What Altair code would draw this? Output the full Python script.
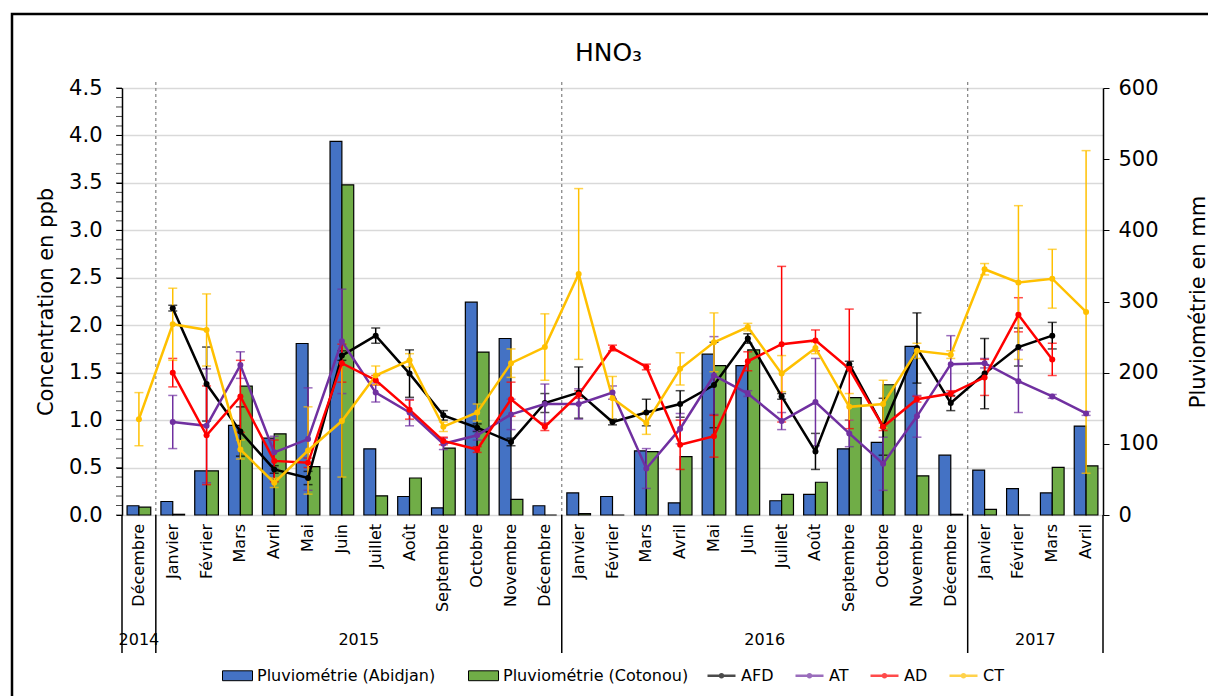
import altair as alt
import pandas as pd

# ---- data ---------------------------------------------------------------
months = [
    "Décembre",
    "Janvier", "Février", "Mars", "Avril", "Mai", "Juin", "Juillet", "Août",
    "Septembre", "Octobre", "Novembre", "Décembre",
    "Janvier", "Février", "Mars", "Avril", "Mai", "Juin", "Juillet", "Août",
    "Septembre", "Octobre", "Novembre", "Décembre",
    "Janvier", "Février", "Mars", "Avril",
]
years = ["2014"] + ["2015"] * 12 + ["2016"] * 12 + ["2017"] * 4

# rainfall (mm, right axis)
rain_abidjan = [13, 19, 62, 126, 108, 241, 525, 93, 26, 10, 299, 248, 13,
                31, 26, 90, 17, 226, 210, 20, 29, 93, 102, 237, 84,
                63, 37, 31, 125]
rain_cotonou = [11, 1, 62, 181, 114, 68, 464, 27, 52, 94, 229, 22, 0,
                2, 0, 89, 82, 210, 232, 29, 46, 165, 183, 55, 1,
                8, 0, 67, 69]

# HNO3 concentrations (ppb, left axis) and standard deviations
afd = [None, 2.18, 1.38, 0.88, 0.48, 0.39, 1.68, 1.89, 1.49, 1.05, 0.92, 0.77, 1.18,
       1.29, 0.98, 1.08, 1.17, 1.37, 1.86, 1.25, 0.67, 1.59, 0.93, 1.76, 1.18,
       1.49, 1.77, 1.89, None]
afd_err = [None, 0.03, 0.39, 0.26, 0.04, 0.07, 0.05, 0.08, 0.25, 0.05, 0.04, 0.04, 0.10,
           0.27, 0.03, 0.14, 0.14, 0.45, 0.05, 0.03, 0.19, 0.03, 0.30, 0.37, 0.08,
           0.37, 0.20, 0.14, None]

at = [None, 0.98, 0.94, 1.58, 0.66, 0.80, 1.83, 1.29, 1.08, 0.75, 0.84, 1.06, 1.17,
      1.17, 1.29, 0.49, 0.91, 1.47, 1.28, 0.99, 1.19, 0.86, 0.54, 1.04, 1.59,
      1.60, 1.41, 1.25, 1.07]
at_err = [None, 0.28, 0.60, 0.14, 0.17, 0.54, 0.55, 0.10, 0.14, 0.06, 0.05, 0.16, 0.21,
          0.16, 0.07, 0.21, 0.16, 0.41, 0.03, 0.09, 0.46, 0.14, 0.28, 0.22, 0.30,
          0.05, 0.33, 0.02, 0.02]

ad = [None, 1.50, 0.84, 1.25, 0.57, 0.55, 1.60, 1.42, 1.11, 0.78, 0.69, 1.22, 0.93,
      1.27, 1.76, 1.56, 0.74, 0.83, 1.62, 1.80, 1.84, 1.54, 0.93, 1.22, 1.28,
      1.45, 2.11, 1.64, None]
ad_err = [None, 0.15, 0.52, 0.38, 0.22, 0.05, 0.20, 0.05, 0.10, 0.04, 0.03, 0.18, 0.04,
          0.04, 0.03, 0.03, 0.26, 0.22, 0.10, 0.82, 0.11, 0.63, 0.04, 0.03, 0.03,
          0.19, 0.18, 0.17, None]

ct = [1.01, 2.01, 1.95, 0.69, 0.34, 0.68, 0.99, 1.47, 1.63, 0.93, 1.08, 1.60, 1.77,
      2.54, 1.23, 0.97, 1.54, 1.82, 1.98, 1.49, 1.76, 1.14, 1.17, 1.73, 1.69,
      2.59, 2.45, 2.49, 2.14]
ct_err = [0.28, 0.38, 0.38, 0.10, 0.05, 0.46, 0.59, 0.10, 0.07, 0.05, 0.09, 0.15, 0.35,
          0.90, 0.23, 0.12, 0.17, 0.31, 0.04, 0.19, 0.06, 0.14, 0.25, 0.08, 0.04,
          0.06, 0.81, 0.31, 1.70]

series_names = ["AFD", "AT", "AD", "CT"]
series_colors = ["#000000", "#7030A0", "#FF0000", "#FFC000"]
station_names = ["Pluviométrie (Abidjan)", "Pluviométrie (Cotonou)"]
station_colors = ["#4472C4", "#70AD47"]
chart_title = "HNO₃"

# ---- tables ---------------------------------------------------------------
n = len(months)
idx = list(range(n))
bar_w = 0.35

bars_df = pd.DataFrame({
    "station": [station_names[0]] * n + [station_names[1]] * n,
    "mm": rain_abidjan + rain_cotonou,
    "base": [0] * (2 * n),
    "x0": [i + 0.5 - bar_w for i in idx] + [i + 0.5 for i in idx],
    "x1": [i + 0.5 for i in idx] + [i + 0.5 + bar_w for i in idx],
})

rows = []
for name, vals, errs in zip(series_names, [afd, at, ad, ct], [afd_err, at_err, ad_err, ct_err]):
    for i, v, e in zip(idx, vals, errs):
        if v is not None:
            rows.append({"serie": name, "x": i + 0.5, "c": v, "lo": v - e, "hi": v + e})
conc_df = pd.DataFrame(rows)

month_df = pd.DataFrame({"month": months, "x": [i + 0.5 for i in idx]})

# year groups: boundaries and label positions
year_names = []
year_start = []
for i, y in enumerate(years):
    if not year_names or year_names[-1] != y:
        year_names.append(y)
        year_start.append(i)
year_end = year_start[1:] + [n]
year_df = pd.DataFrame({"year": year_names,
                        "pos": [(s + e) / 2 for s, e in zip(year_start, year_end)]})
bounds_df = pd.DataFrame({"b": year_start + [n]})
sep_df = pd.DataFrame({"b": year_start[1:]})
minor_df = pd.DataFrame({"v": [k / 10 for k in range(46)]})

# ---- scales & axes --------------------------------------------------------
FONT = "DejaVu Sans"
W, H = 981, 427

xscale = alt.Scale(domain=[0, n], nice=False, zero=False)
left_scale = alt.Scale(domain=[0, 4.5], nice=False, zero=True)
right_scale = alt.Scale(domain=[0, 600], nice=False, zero=True)

month_axis = alt.Axis(
    values=[i + 0.5 for i in idx], labels=False, ticks=False,
    grid=False, domainColor="black", domainWidth=1.5, title=None,
)
left_axis = alt.Axis(
    orient="left", values=[k / 2 for k in range(10)], format=".1f",
    labelFontSize=21, labelColor="black", labelPadding=14,
    tickSize=6, tickColor="black", domainColor="black", domainWidth=1.5,
    grid=True, gridColor="#d9d9d9", gridWidth=1.5,
    title="Concentration en ppb", titleFontSize=21, titleFontWeight="normal",
    titleColor="black", titlePadding=12,
)
right_axis = alt.Axis(
    orient="right", values=[0, 100, 200, 300, 400, 500, 600],
    labelFontSize=21, labelColor="black", labelPadding=9,
    tickSize=6, tickColor="black", domainColor="black", domainWidth=1.5,
    grid=False, title="Pluviométrie en mm", titleFontSize=21,
    titleFontWeight="normal", titleColor="black", titleAngle=270, titlePadding=50,
)

# ---- layers ---------------------------------------------------------------
frame = alt.Chart(pd.DataFrame({"k": [0]})).mark_rect(
    filled=False, stroke="black", strokeWidth=2.5
).encode(x=alt.value(-110), x2=alt.value(W + 140), y=alt.value(-74), y2=alt.value(H + 200))

title = alt.Chart(pd.DataFrame({"t": [chart_title]})).mark_text(
    fontSize=25, color="black", baseline="middle", align="center"
).encode(x=alt.value(W / 2 - 4), y=alt.value(-35), text="t:N")

bars = alt.Chart(bars_df).mark_bar(stroke="black", strokeWidth=1.2).encode(
    x=alt.X("x0:Q", scale=xscale, axis=month_axis),
    x2="x1:Q",
    y=alt.Y("mm:Q", scale=right_scale, axis=right_axis),
    y2="base:Q",
    color=alt.Color(
        "station:N",
        scale=alt.Scale(domain=station_names, range=station_colors),
        legend=alt.Legend(
            title=None, orient="none", legendX=100, legendY=572, direction="horizontal",
            symbolType="M-1,-0.33H1V0.33H-1Z", symbolSize=900,
            symbolStrokeColor="black", symbolStrokeWidth=1,
            labelFontSize=16, labelColor="black", labelOffset=4, columnPadding=30,
            labelLimit=400, padding=0,
        ),
    ),
)

separators = alt.Chart(sep_df).mark_rule(
    color="#808080", strokeDash=[3, 3], strokeWidth=1.2
).encode(x=alt.X("b:Q", scale=xscale, axis=None), y=alt.value(-6), y2=alt.value(H))

serie_color = alt.Color(
    "serie:N",
    scale=alt.Scale(domain=series_names, range=series_colors),
    legend=alt.Legend(
        title=None, orient="none", legendX=584, legendY=572, direction="horizontal",
        symbolType="M-1,0H1M0.1,0A0.1,0.1 0 1,1 -0.1,0A0.1,0.1 0 1,1 0.1,0",
        symbolSize=784, symbolStrokeWidth=2.5,
        labelFontSize=16, labelColor="black", labelOffset=4, columnPadding=16,
        labelLimit=200, padding=0,
    ),
)

errbars = alt.Chart(conc_df).mark_errorbar(ticks=True, size=9, thickness=1.5).encode(
    x=alt.X("x:Q", scale=xscale, axis=None),
    y=alt.Y("lo:Q", scale=left_scale, axis=left_axis),
    y2="hi:Q",
    color=serie_color,
)
lines = alt.Chart(conc_df).mark_line(strokeWidth=2.5).encode(
    x=alt.X("x:Q", scale=xscale, axis=None),
    y=alt.Y("c:Q", scale=left_scale, axis=left_axis),
    color=serie_color,
    order="x:Q",
)
points = alt.Chart(conc_df).mark_circle(size=36, opacity=1).encode(
    x=alt.X("x:Q", scale=xscale, axis=None),
    y=alt.Y("c:Q", scale=left_scale, axis=left_axis),
    color=serie_color,
)
minor_ticks = alt.Chart(minor_df).mark_tick(
    orient="horizontal", color="black", size=6, thickness=1
).encode(x=alt.value(-3), y=alt.Y("v:Q", scale=left_scale, axis=left_axis))

conc_group = alt.layer(minor_ticks, errbars, lines, points)

# category labels: months (rotated) and years below them
month_text = alt.Chart(month_df).mark_text(
    fontSize=16, color="black", angle=270, align="right", baseline="middle"
).encode(x=alt.X("x:Q", scale=xscale, axis=None), y=alt.value(H + 9), text="month:N")

year_rules = alt.Chart(bounds_df).mark_rule(color="black", strokeWidth=1.5).encode(
    x=alt.X("b:Q", scale=xscale, axis=None), y=alt.value(H), y2=alt.value(H + 138)
)
year_text = alt.Chart(year_df).mark_text(
    fontSize=16, color="black", baseline="middle"
).encode(x=alt.X("pos:Q", scale=xscale, axis=None), y=alt.value(H + 125), text="year:N")

chart = alt.layer(
    frame, title, bars, separators, conc_group, month_text, year_rules, year_text
).resolve_scale(
    y="independent", color="independent"
).properties(
    width=W, height=H,
    autosize=alt.AutoSizeParams(type="none"),
    padding={"left": 122, "top": 88, "right": 105, "bottom": 181},
).configure(font=FONT).configure_view(stroke="transparent")

chart.save("out.html", embed_options={"renderer": "svg", "actions": False})
